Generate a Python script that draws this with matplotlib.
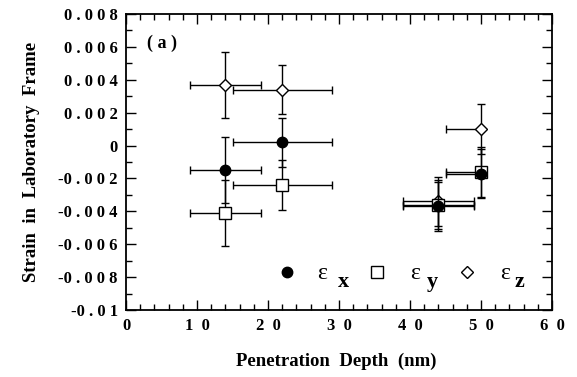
import matplotlib
matplotlib.use("Agg")
import matplotlib.pyplot as plt
from matplotlib.lines import Line2D
from matplotlib.ticker import MultipleLocator, FixedLocator, FixedFormatter

plt.rcParams['font.family'] = ['Liberation Serif', 'DejaVu Serif']

# ---- data ----
depth = [14, 22, 44, 50]
xerr_lo = [5, 7, 5, 5]
xerr_hi = [5, 7, 5, 0]

eps_x = [-0.0015, 0.0002, -0.0037, -0.0017]
eps_x_err = [0.002, 0.0015, 0.0015, 0.0015]

eps_y = [-0.0041, -0.0024, -0.0036, -0.0016]
eps_y_err = [0.002, 0.0015, 0.0015, 0.0015]

eps_z = [0.0037, 0.0034, -0.0034, 0.0010]
eps_z_err = [0.002, 0.0015, 0.0015, 0.0015]

xticks = [0, 10, 20, 30, 40, 50, 60]
xticklabels = ['0', '1  0', '2  0', '3  0', '4  0', '5  0', '6  0']
yticks = [-0.01, -0.008, -0.006, -0.004, -0.002, 0, 0.002, 0.004, 0.006, 0.008]
yticklabels = ['-0 . 0 1', '-0 . 0 0 8', '-0 . 0 0 6', '-0 . 0 0 4', '-0 . 0 0 2', '0',
               '0 . 0 0 2', '0 . 0 0 4', '0 . 0 0 6', '0 . 0 0 8']
legend_subs = ['x', 'y', 'z']

fig = plt.figure(figsize=(5.77, 3.77), dpi=100)
ax = fig.add_axes([0.2184, 0.1777, 0.7383, 0.7852])

xerr = [xerr_lo, xerr_hi]
common = dict(ls='none', ecolor='black', elinewidth=1.0, capsize=3, capthick=1.0)
ax.errorbar(depth, eps_z, yerr=eps_z_err, xerr=xerr, marker='D', ms=6.5,
            mfc='white', mec='black', mew=1.0, **common, zorder=3)
ax.errorbar(depth, eps_y, yerr=eps_y_err, xerr=xerr, marker='s', ms=8.5,
            mfc='white', mec='black', mew=1.0, **common, zorder=4)
ax.errorbar(depth, eps_x, yerr=eps_x_err, xerr=xerr, marker='o', ms=7.5,
            mfc='black', mec='black', mew=1.0, **common, zorder=5)

ax.set_xlim(0, 60)
ax.set_ylim(-0.01, 0.008)
ax.xaxis.set_major_locator(FixedLocator(xticks))
ax.xaxis.set_major_formatter(FixedFormatter(xticklabels))
ax.xaxis.set_minor_locator(MultipleLocator(2))
ax.yaxis.set_major_locator(FixedLocator(yticks))
ax.yaxis.set_major_formatter(FixedFormatter(yticklabels))
ax.yaxis.set_minor_locator(MultipleLocator(0.001))

ax.tick_params(which='both', direction='in', top=True, right=True, width=1.0)
ax.tick_params(which='major', length=7, labelsize=12, pad=6)
ax.tick_params(which='minor', length=4)
for lab in ax.get_xticklabels() + ax.get_yticklabels():
    lab.set_fontweight('bold')
for s in ax.spines.values():
    s.set_linewidth(1.3)

ax.set_xlabel('Penetration  Depth  (nm)', fontsize=13.5, fontweight='bold')
ax.xaxis.set_label_coords(0.493, -0.145)
ax.xaxis.label.set_va('top')
ax.set_ylabel('Strain  in  Laboratory  Frame', fontsize=13.5, fontweight='bold')
ax.yaxis.set_label_coords(-0.222, 0.5)
ax.yaxis.label.set_va('center')

ax.text(0.05, 0.93, '( a )', transform=ax.transAxes, fontsize=13, fontweight='bold',
        va='top', ha='left')

# ---- legend (manual, in axes fraction) ----
key_styles = [
    dict(marker='o', ms=7.5, mfc='black', mec='black'),
    dict(marker='s', ms=9, mfc='white', mec='black'),
    dict(marker='D', ms=6.5, mfc='white', mec='black'),
]
key_x = [0.377, 0.589, 0.800]
eps_tx = [0.448, 0.667, 0.878]
sub_tx = [0.497, 0.707, 0.913]
for kx, et, st, sty, sub in zip(key_x, eps_tx, sub_tx, key_styles, legend_subs):
    ax.add_line(Line2D([kx], [0.128], ls='none', mew=1.0, transform=ax.transAxes,
                       clip_on=False, **sty))
    ax.text(et, 0.105, 'ε', transform=ax.transAxes, fontsize=17,
            ha='left', va='baseline')
    ax.text(st, 0.078, sub, transform=ax.transAxes, fontsize=16, fontweight='bold',
            ha='left', va='baseline')

fig.savefig('out.png', dpi=100)
